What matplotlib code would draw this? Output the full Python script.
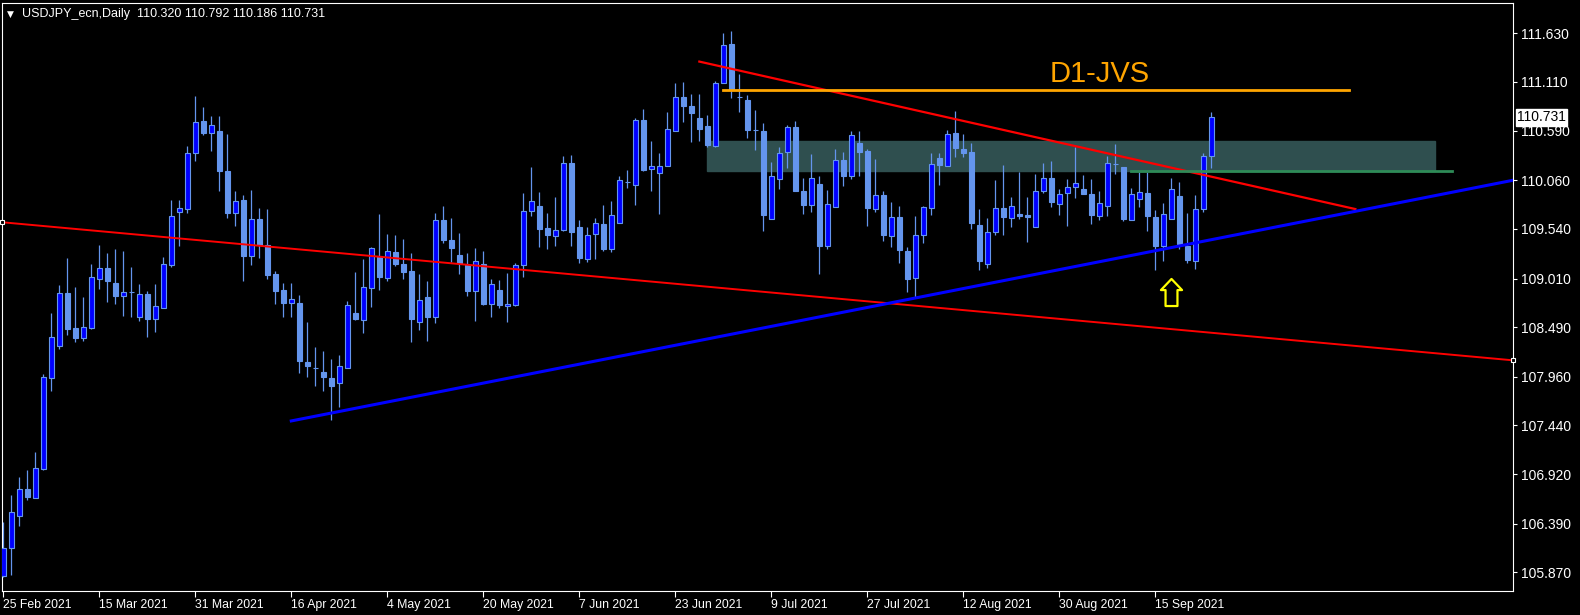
import matplotlib
matplotlib.use("Agg")
import matplotlib.pyplot as plt
from matplotlib.patches import Rectangle
from matplotlib.path import Path
import numpy as np
import pandas as pd

plt.rcParams['font.family'] = ['Liberation Sans', 'DejaVu Sans']

# daily USDJPY candles, 25 Feb 2021 .. 24 Sep 2021
open_ = [105.83, 106.13, 106.47, 106.76, 106.66, 106.97, 107.95, 108.29, 108.85, 108.48,
         108.37, 108.48, 109.00, 109.12, 108.96, 108.82, 108.87, 108.60, 108.84, 108.58,
         108.70, 109.15, 109.72, 109.75, 110.35, 110.69, 110.56, 110.59, 110.16, 109.71,
         109.85, 109.25, 109.65, 109.37, 109.06, 108.89, 108.75, 108.75, 108.12, 108.05,
         108.01, 107.95, 107.89, 108.05, 108.64, 108.57, 108.91, 109.25, 109.02, 109.29,
         109.16, 109.09, 108.54, 108.81, 108.60, 109.63, 109.42, 109.26, 109.15, 108.88,
         109.17, 108.74, 108.89, 108.72, 108.73, 109.15, 109.73, 109.78, 109.55, 109.46,
         109.53, 110.24, 109.56, 109.22, 109.49, 109.59, 109.32, 109.60, 110.04, 110.01,
         110.70, 110.18, 110.14, 110.21, 110.59, 110.95, 110.85, 110.73, 110.64, 110.43,
         111.10, 111.52, 110.95, 110.92, 110.60, 110.59, 109.65, 110.07, 110.36, 110.63,
         109.95, 109.80, 110.02, 109.36, 109.77, 110.28, 110.10, 110.46, 110.37, 109.75,
         109.90, 109.46, 109.67, 109.30, 109.02, 109.48, 109.76, 110.30, 110.21, 110.56,
         110.39, 110.36, 109.58, 109.16, 109.51, 109.76, 109.66, 109.70, 109.69, 109.56,
         109.94, 110.08, 109.81, 109.92, 109.99, 109.97, 109.91, 109.68, 109.78, 110.23,
         110.20, 109.63, 109.86, 109.92, 109.67, 109.36, 109.65, 109.89, 109.36, 109.20,
         109.75, 110.320]
high = [106.41, 106.70, 106.89, 106.96, 107.16, 107.99, 108.64, 108.94, 109.23, 108.92,
        108.81, 109.16, 109.37, 109.28, 109.32, 109.30, 109.13, 108.95, 108.88, 108.95,
        109.24, 109.85, 109.85, 110.43, 110.96, 110.84, 110.75, 110.75, 110.55, 109.95,
        109.90, 109.96, 109.76, 109.75, 109.09, 108.96, 108.96, 108.83, 108.54, 108.28,
        108.23, 108.15, 108.19, 108.77, 109.08, 109.22, 109.35, 109.70, 109.49, 109.48,
        109.43, 109.28, 109.06, 108.98, 109.71, 109.79, 109.66, 109.50, 109.28, 109.34,
        109.30, 109.00, 108.99, 109.07, 109.18, 109.92, 110.20, 109.93, 109.71, 109.88,
        110.32, 110.33, 109.64, 109.56, 109.66, 109.80, 109.84, 110.10, 110.17, 110.72,
        110.82, 110.48, 110.35, 110.79, 111.10, 111.11, 110.98, 110.98, 110.76, 111.12,
        111.63, 111.66, 111.19, 110.97, 110.81, 110.67, 110.26, 110.41, 110.65, 110.69,
        110.08, 110.34, 110.10, 109.96, 110.39, 110.36, 110.59, 110.59, 110.39, 110.29,
        109.95, 109.83, 109.78, 109.35, 109.68, 109.78, 110.35, 110.35, 110.60, 110.80,
        110.55, 110.46, 109.75, 109.66, 110.06, 110.22, 109.88, 110.15, 109.88, 110.13,
        110.24, 110.27, 109.97, 110.07, 110.41, 110.12, 110.07, 109.95, 110.32, 110.45,
        110.20, 109.98, 110.15, 110.15, 109.74, 109.82, 110.08, 110.04, 109.71, 109.90,
        110.35, 110.792]
low = [105.82, 105.84, 106.36, 106.64, 106.66, 106.96, 107.81, 108.26, 108.41, 108.33,
       108.34, 108.47, 108.90, 108.76, 108.74, 108.61, 108.60, 108.56, 108.39, 108.44,
       108.70, 109.13, 109.36, 109.71, 110.27, 110.54, 110.37, 109.95, 109.66, 109.57,
       108.98, 109.15, 109.23, 109.00, 108.74, 108.60, 108.60, 108.00, 107.96, 107.86,
       107.81, 107.50, 107.64, 108.05, 108.57, 108.43, 108.71, 108.89, 108.98, 109.14,
       109.00, 108.33, 108.46, 108.34, 108.53, 109.39, 109.19, 109.06, 108.82, 108.56,
       108.73, 108.60, 108.69, 108.55, 108.72, 109.03, 109.68, 109.35, 109.32, 109.36,
       109.52, 109.36, 109.18, 109.19, 109.22, 109.30, 109.29, 109.60, 109.98, 109.80,
       110.16, 109.94, 109.70, 110.21, 110.59, 110.68, 110.47, 110.48, 110.42, 110.41,
       111.10, 110.94, 110.79, 110.51, 110.38, 109.52, 109.65, 109.97, 110.19, 109.94,
       109.70, 109.72, 109.06, 109.32, 109.77, 110.00, 110.07, 110.11, 109.57, 109.72,
       109.41, 109.35, 109.18, 108.87, 108.81, 109.39, 109.69, 110.01, 110.21, 110.31,
       110.31, 109.54, 109.10, 109.12, 109.47, 109.48, 109.56, 109.65, 109.40, 109.56,
       109.92, 109.77, 109.69, 109.57, 109.87, 109.91, 109.59, 109.63, 109.68, 110.13,
       109.62, 109.63, 109.77, 109.52, 109.10, 109.20, 109.65, 109.32, 109.18, 109.11,
       109.72, 110.186]
close = [106.13, 106.51, 106.76, 106.68, 106.98, 107.96, 108.39, 108.86, 108.47, 108.37,
         108.49, 109.03, 109.12, 108.98, 108.82, 108.87, 108.87, 108.84, 108.58, 108.72,
         109.17, 109.68, 109.76, 110.35, 110.68, 110.57, 110.65, 110.16, 109.71, 109.84,
         109.25, 109.65, 109.37, 109.05, 108.88, 108.75, 108.79, 108.13, 108.08, 108.05,
         107.96, 107.86, 108.08, 108.73, 108.58, 108.92, 109.34, 109.03, 109.30, 109.17,
         109.08, 108.58, 108.78, 108.60, 109.63, 109.42, 109.34, 109.18, 108.88, 109.20,
         108.74, 108.95, 108.73, 108.74, 109.15, 109.73, 109.84, 109.54, 109.48, 109.53,
         110.24, 109.51, 109.23, 109.48, 109.60, 109.32, 109.69, 110.06, 110.04, 110.70,
         110.17, 110.21, 110.21, 110.61, 110.95, 110.85, 110.78, 110.61, 110.44, 111.10,
         111.51, 111.02, 110.95, 110.60, 110.60, 109.69, 110.11, 110.35, 110.63, 109.94,
         109.80, 110.08, 109.36, 109.81, 110.28, 110.11, 110.54, 110.36, 109.76, 109.90,
         109.47, 109.67, 109.31, 109.01, 109.47, 109.77, 110.23, 110.22, 110.55, 110.40,
         110.35, 109.60, 109.20, 109.51, 109.76, 109.67, 109.78, 109.68, 109.67, 109.94,
         110.08, 109.83, 109.91, 109.99, 110.03, 109.91, 109.69, 109.82, 110.24, 110.23,
         109.65, 109.91, 109.93, 109.68, 109.36, 109.70, 109.97, 109.38, 109.21, 109.75,
         110.32, 110.731]

dates = pd.bdate_range("2021-02-25", periods=len(close))
price_ticks = [111.630, 111.110, 110.590, 110.060, 109.540, 109.010,
               108.490, 107.960, 107.440, 106.920, 106.390, 105.870]

# objects drawn on the chart: (bar index, price)
red_long = [(0, 109.610), (150, 108.438)]
red_down = [(87, 111.328), (169, 109.752)]
blue_up = [(36, 107.488), (150, 109.408)]
orange_level = [(90, 111.019), (168.2, 111.019)]
green_level = [(141, 110.155), (181.1, 110.155)]
zone = [(88, 110.160), (179, 110.479)]
arrow_point = (146.0, 108.869)
zone_label = (137.1, 111.195, "D1-JVS")
last_price = 110.731

x = np.arange(len(close))
o = np.array(open_)
c = np.array(close)
bull = c > o
xmin, xmax = -0.16, 188.7

fig = plt.figure(figsize=(15.8, 6.15), dpi=100, facecolor="black")
ax = fig.add_axes([2 / 1580, 24.5 / 615, 1511 / 1580, 587.5 / 615], facecolor="black")

# support / resistance zone
(zx0, zy0), (zx1, zy1) = zone
ax.add_patch(Rectangle((zx0, zy0), zx1 - zx0, zy1 - zy0, color="#2F4F4F", zorder=1))

# candles
ax.vlines(x, low, high, color="#6495ED", linewidth=0.9, zorder=2)
ax.bar(x, np.abs(c - o), bottom=np.minimum(o, c), width=0.56,
       color=np.where(bull, "#0000FF", "#6495ED"), edgecolor="#6495ED",
       linewidth=0.8, zorder=3)

# trend lines
def red_at(b):
    (b0, p0), (b1, p1) = red_long
    return p0 + (b - b0) * (p1 - p0) / (b1 - b0)

ax.axline(red_long[0], red_long[1], color="#FF0000", linewidth=1.4, zorder=4)
ax.plot([xmin, xmax], [red_at(xmin), red_at(xmax)], linestyle="none", marker="s",
        markersize=3.5, markerfacecolor="black", markeredgecolor="white",
        markeredgewidth=0.8, clip_on=False, zorder=6)
ax.plot(*zip(*red_down), color="#FF0000", linewidth=1.6, zorder=4)
slope = (blue_up[1][1] - blue_up[0][1]) / (blue_up[1][0] - blue_up[0][0])
ax.plot([blue_up[0][0], xmax], [blue_up[0][1], blue_up[0][1] + slope * (xmax - blue_up[0][0])],
        color="#0000FF", linewidth=2.2, zorder=4)
ax.plot(*zip(*orange_level), color="#FFA500", linewidth=2.0, zorder=4)
ax.plot(*zip(*green_level), color="#2E8B57", linewidth=2.0, zorder=4)

# up arrow
arrow = Path([(0, 1), (0.78, 0.18), (0.44, 0.18), (0.44, -1), (-0.44, -1),
              (-0.44, 0.18), (-0.78, 0.18), (0, 1)], closed=True)
ax.plot([arrow_point[0]], [arrow_point[1]], marker=arrow, markersize=19.5,
        markerfacecolor="black", markeredgecolor="#FFFF00", markeredgewidth=1.6, zorder=5)

ax.text(zone_label[0], zone_label[1], zone_label[2], color="#FFA500", fontsize=21,
        ha="center", va="center", zorder=5)

ax.set_xlim(xmin, xmax)
ax.set_ylim(105.676, 111.954)

tick_idx = list(range(0, len(close), 12))
ax.set_xticks(tick_idx)
ax.set_xticklabels([f"{dates[i].day} {dates[i]:%b %Y}" for i in tick_idx], ha="left")
ax.yaxis.tick_right()
ax.set_yticks(price_ticks)
ax.set_yticklabels([f"{v:.3f}" for v in price_ticks])
ax.tick_params(axis="x", colors="white", labelsize=8.8, length=4, width=0.8, pad=2)
ax.tick_params(axis="y", colors="white", labelsize=10, length=3, width=0.8, pad=3)
for s in ax.spines.values():
    s.set_color("white")
    s.set_linewidth(0.8)

ax.text(1.0028, last_price, f"{last_price:.3f}", transform=ax.get_yaxis_transform(),
        color="black", fontsize=10, ha="left", va="center", zorder=7,
        bbox=dict(boxstyle="square,pad=0.1", facecolor="white", edgecolor="white"))

fig.text(6.5 / 1580, 1 - 16.5 / 615, "\u25BC", color="white", fontsize=6.5,
         family="DejaVu Sans", va="baseline")
fig.text(21.5 / 1580, 1 - 16.5 / 615, "USDJPY_ecn,Daily  110.320 110.792 110.186 110.731",
         color="white", fontsize=9.0, va="baseline")

fig.savefig("out.png", dpi=100, facecolor="black")
